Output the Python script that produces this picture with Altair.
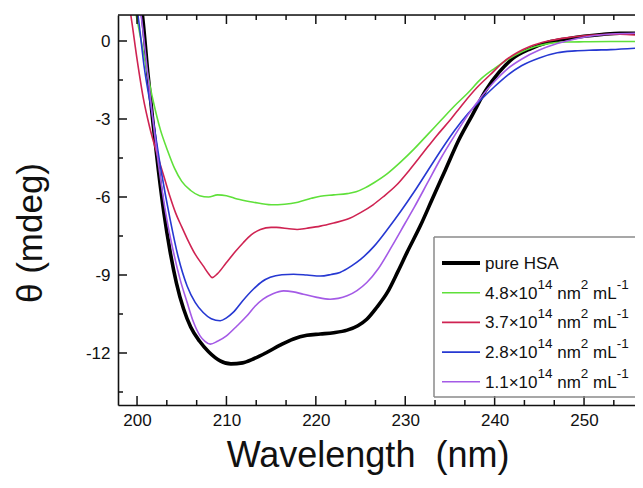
import altair as alt
import pandas as pd

# ---------------- data ----------------
series_names = ["pure HSA", "4.8", "3.7", "2.8", "1.1"]
series_colors = ["#000000", "#5fe03a", "#cf2352", "#2638d2", "#a45ae6"]

wl_black = [199.8, 200.6, 201.2, 201.8, 202.4, 203.0, 203.7, 204.4, 205.2, 206.0, 207.0, 208.0,
            209.3, 210.5, 211.8, 213.0, 214.5, 216.0, 217.5, 219.0, 220.5, 222.0, 223.5, 224.7,
            225.7, 226.8, 228.0, 229.2, 230.2, 231.7, 233.0, 234.5, 236.0, 237.5, 239.0, 240.5,
            242.0, 244.0, 246.0, 248.0, 250.0, 252.0, 254.0, 256.0]
th_black = [2.5, 1.0, -1.2, -3.2, -5.0, -6.6, -8.1, -9.3, -10.3, -11.0, -11.55, -11.95,
            -12.3, -12.42, -12.38, -12.23, -11.98, -11.7, -11.46, -11.32, -11.27, -11.22, -11.12, -10.95,
            -10.7, -10.25, -9.67, -8.85, -8.13, -7.1, -6.1, -4.95, -3.8, -2.85, -1.9, -1.2,
            -0.68, -0.3, -0.05, 0.08, 0.18, 0.25, 0.3, 0.3]

wl_green = [199.4, 199.9, 200.8, 201.8, 202.6, 203.4, 204.2, 205.0, 206.0, 207.0, 208.0, 209.0,
            210.0, 211.2, 213.0, 215.0, 216.5, 218.0, 219.5, 220.5, 222.0, 223.5, 224.5, 225.5,
            226.5, 228.0, 229.5, 231.0, 232.5, 234.0, 235.5, 237.0, 238.5, 240.0, 241.5, 243.0,
            244.5, 246.0, 248.0, 250.0, 253.0, 256.0]
th_green = [1.8, 1.0, -0.6, -2.3, -3.4, -4.2, -4.9, -5.4, -5.75, -5.95, -6.0, -5.92,
            -5.95, -6.08, -6.2, -6.3, -6.28, -6.2, -6.05, -5.97, -5.92, -5.87, -5.8, -5.65,
            -5.45, -5.1, -4.65, -4.15, -3.6, -3.05, -2.5, -2.0, -1.45, -1.05, -0.7, -0.42,
            -0.22, -0.1, -0.04, -0.03, -0.02, -0.02]

wl_red = [198.8, 199.3, 200.0, 200.7, 201.4, 202.2, 203.0, 203.7, 204.3, 205.0, 205.6, 206.5,
          207.4, 208.0, 208.4, 209.0, 210.0, 211.0, 211.9, 212.8, 213.8, 215.0, 215.6, 217.0,
          217.9, 219.0, 220.5, 222.0, 223.5, 225.0, 226.4, 227.5, 229.0, 230.5, 232.0, 233.5,
          235.0, 236.5, 238.0, 239.5, 241.0, 242.5, 244.0, 246.0, 248.0, 250.0, 252.0, 254.0, 256.0]
th_red = [2.0, 1.0, -0.7, -2.2, -3.3, -4.3, -5.2, -6.0, -6.6, -7.15, -7.6, -8.2,
          -8.65, -8.95, -9.1, -8.95, -8.52, -8.1, -7.75, -7.45, -7.25, -7.17, -7.17, -7.22,
          -7.25, -7.2, -7.12, -7.0, -6.86, -6.6, -6.3, -6.0, -5.55, -4.95, -4.3, -3.65,
          -3.05, -2.4, -1.8, -1.3, -0.8, -0.45, -0.2, 0.0, 0.12, 0.2, 0.25, 0.26, 0.22]

wl_blue = [199.6, 200.1, 200.8, 201.8, 202.7, 203.7, 204.6, 205.6, 206.5, 207.4, 208.3, 209.3,
           210.0, 210.75, 211.8, 213.0, 214.0, 214.9, 216.2, 217.5, 219.0, 220.5, 221.7, 222.7,
           224.0, 225.0, 226.5, 228.0, 229.5, 231.0, 232.5, 234.0, 235.5, 237.0, 238.5, 240.0,
           241.5, 243.0, 245.0, 247.0, 249.0, 251.0, 253.0, 256.0]
th_blue = [2.0, 1.0, -1.0, -3.03, -5.0, -6.86, -8.3, -9.42, -10.05, -10.44, -10.68, -10.76,
           -10.65, -10.44, -10.0, -9.55, -9.25, -9.09, -8.99, -8.97, -9.0, -9.04, -8.98, -8.9,
           -8.65, -8.4, -7.9, -7.25, -6.55, -5.8, -5.0, -4.2, -3.45, -2.8, -2.25, -1.75,
           -1.3, -0.95, -0.65, -0.45, -0.38, -0.35, -0.33, -0.27]

wl_purple = [199.8, 200.45, 201.2, 201.8, 202.5, 203.2, 204.0, 204.8, 205.6, 206.3, 207.05, 207.6,
             208.2, 209.0, 210.0, 211.2, 212.3, 213.2, 214.1, 215.2, 216.4, 217.5, 218.6, 220.0,
             221.6, 222.5, 223.5, 224.6, 225.7, 227.0, 228.5, 230.0, 231.0, 232.5, 234.0, 235.5,
             237.0, 238.5, 240.0, 241.5, 243.0, 245.0, 247.0, 249.0, 251.0, 253.0, 256.0]
th_purple = [2.5, 1.0, -1.3, -3.1, -5.0, -6.6, -8.0, -9.15, -10.05, -10.8, -11.34, -11.55,
             -11.66, -11.55, -11.34, -10.95, -10.57, -10.2, -9.93, -9.72, -9.61, -9.65, -9.74, -9.85,
             -9.93, -9.9, -9.8, -9.6, -9.29, -8.75, -7.9, -7.0, -6.4, -5.45, -4.5, -3.65,
             -2.85, -2.15, -1.55, -1.05, -0.7, -0.35, -0.1, 0.08, 0.2, 0.27, 0.3]

x_major = [200, 210, 220, 230, 240, 250]
x_minor = [203.33, 206.67, 213.33, 216.67, 223.33, 226.67, 233.33, 236.67, 243.33, 246.67, 253.33]
y_major = [0, -3, -6, -9, -12]
y_minor = [-1.5, -4.5, -7.5, -10.5, -13.5]

legend_labels = ["pure HSA", "4.8", "3.7", "2.8", "1.1"]

# ---------------- layout ----------------
W, H = 517, 390
FONT = "Liberation Sans"
xscale = alt.Scale(domain=[197.87, 255.7], nice=False, zero=False)
yscale = alt.Scale(domain=[-14, 1], nice=False, zero=False)

all_wl = [wl_black, wl_green, wl_red, wl_blue, wl_purple]
all_th = [th_black, th_green, th_red, th_blue, th_purple]
rows = []
for name, wls, ths in zip(series_names, all_wl, all_th):
    for w_, t_ in zip(wls, ths):
        rows.append({"series": name, "wl": w_, "theta": t_})
df = pd.DataFrame(rows)

color = alt.Color("series:N", scale=alt.Scale(domain=series_names, range=series_colors), legend=None)

base_x = alt.X("wl:Q", scale=xscale,
               axis=alt.Axis(values=x_major, ticks=False, grid=False, labelFontSize=17,
                             labelFont=FONT, labelColor="#111", labelPadding=7,
                             domainColor="#111", domainWidth=1.6, title=None))
base_y = alt.Y("theta:Q", scale=yscale,
               axis=alt.Axis(values=y_major, ticks=False, grid=False, labelFontSize=17,
                             labelFont=FONT, labelColor="#111", labelPadding=8,
                             labelExpr="datum.value < 0 ? '-' + abs(datum.value) : '' + datum.value",
                             domainColor="#111", domainWidth=1.6, title=None))

black_line = alt.Chart(df[df.series == "pure HSA"]).mark_line(
    clip=True, strokeWidth=3.6, interpolate="monotone").encode(
    x=base_x, y=base_y, color=color, detail="series:N")

colored = alt.Chart(df[df.series != "pure HSA"]).mark_line(
    clip=True, strokeWidth=1.6, interpolate="monotone").encode(
    x=alt.X("wl:Q", scale=xscale), y=alt.Y("theta:Q", scale=yscale),
    color=color, detail="series:N")

tick_style = dict(color="#111", strokeWidth=1.5)


def xticks(vals, length):
    d = pd.DataFrame({"v": vals})
    bottom = alt.Chart(d).mark_rule(**tick_style).encode(
        x=alt.X("v:Q", scale=xscale), y=alt.value(H), y2=alt.value(H - length))
    top = alt.Chart(d).mark_rule(**tick_style).encode(
        x=alt.X("v:Q", scale=xscale), y=alt.value(0), y2=alt.value(length))
    return [bottom, top]


def yticks(vals, length):
    d = pd.DataFrame({"v": vals})
    return [alt.Chart(d).mark_rule(**tick_style).encode(
        y=alt.Y("v:Q", scale=yscale), x=alt.value(0), x2=alt.value(length))]


one = pd.DataFrame({"a": [0]})
top_border = alt.Chart(one).mark_rule(color="#111", strokeWidth=1.6).encode(
    x=alt.value(0), x2=alt.value(W), y=alt.value(0))

# ---------------- legend ----------------
box_l, box_t, box_b = 316, 222, 382
box_col = "#8a8a8a"
legend_layers = [
    alt.Chart(one).mark_rule(color=box_col, strokeWidth=1.5).encode(
        x=alt.value(box_l), x2=alt.value(W), y=alt.value(box_t)),
    alt.Chart(one).mark_rule(color=box_col, strokeWidth=1.5).encode(
        x=alt.value(box_l), x2=alt.value(W), y=alt.value(box_b)),
    alt.Chart(one).mark_rule(color=box_col, strokeWidth=1.5).encode(
        x=alt.value(box_l), y=alt.value(box_t), y2=alt.value(box_b)),
]

em = {"0": .556, "1": .556, "2": .556, "3": .556, "4": .556, "5": .556, "6": .556,
      "7": .556, "8": .556, "9": .556, ".": .278, "×": .584, "n": .556, "m": .833,
      "L": .556, "-": .333, " ": .278}


def tw(s, size):
    return sum(em.get(c, .556) for c in s) * size


BASE, SUP = 17, 13.5
line_x0, line_x1, text_x = 324, 362, 367
for i, (lab, col) in enumerate(zip(legend_labels, series_colors)):
    yc = 248 + 29.7 * i
    sw = 4 if i == 0 else 1.6
    legend_layers.append(alt.Chart(one).mark_rule(color=col, strokeWidth=sw).encode(
        x=alt.value(line_x0), x2=alt.value(line_x1), y=alt.value(yc)))
    if i == 0:
        pieces = [(lab, False, 0)]
    else:
        pieces = [(lab + "×10", False, 0), ("14", True, 0), ("nm", False, tw(" ", BASE)),
                  ("2", True, 0), ("mL", False, tw(" ", BASE)), ("-1", True, 0)]
    cx = text_x
    for txt, sup, gap in pieces:
        cx += gap
        size = SUP if sup else BASE
        yb = yc + 6 - (10 if sup else 0)
        legend_layers.append(alt.Chart(one).mark_text(
            text=txt, font=FONT, fontSize=size, align="left", baseline="alphabetic",
            color="#111").encode(x=alt.value(cx), y=alt.value(yb)))
        cx += tw(txt, size)

# ---------------- axis titles ----------------
xtitle = alt.Chart(one).mark_text(
    text="Wavelength\u00a0\u00a0(nm)", font=FONT, fontSize=36, align="center",
    baseline="alphabetic", color="#111").encode(x=alt.value(250), y=alt.value(452))
ytitle = alt.Chart(one).mark_text(
    text="θ (mdeg)", font=FONT, fontSize=35, align="center", angle=270,
    baseline="alphabetic", color="#111").encode(x=alt.value(-76), y=alt.value(218))

layers = [black_line, colored]
layers += xticks(x_major, 9) + xticks(x_minor, 5) + yticks(y_major, 9) + yticks(y_minor, 5)
layers += [top_border] + legend_layers + [xtitle, ytitle]

chart = alt.layer(*layers).properties(
    width=W, height=H,
    autosize=alt.AutoSizeParams(type="none"),
    padding={"left": 110, "top": 7, "right": 0, "bottom": 75},
).configure_view(stroke=None).configure(background="white")

chart.save("out.html", embed_options={"renderer": "svg", "actions": False})
